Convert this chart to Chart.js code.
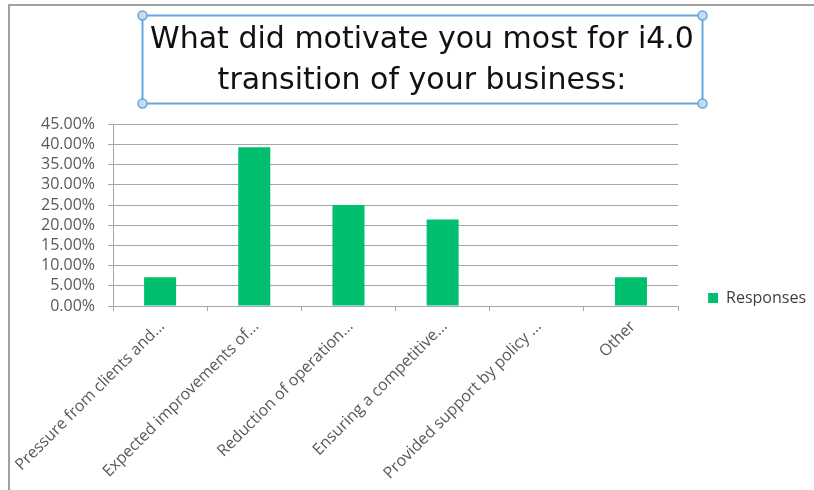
<!DOCTYPE html>
<html>
<head>
<meta charset="utf-8">
<title>i4.0 transition motivation</title>
<script src="https://cdn.jsdelivr.net/npm/chart.js@4"></script>
<style>
  html, body { margin: 0; padding: 0; background: #fff; }
</style>
</head>
<body>
<canvas id="myChart" width="814" height="490"></canvas>
<script>
// Survey answers: share of respondents per motivation (%)
var categories = [
    'Pressure from clients and...',
    'Expected improvements of...',
    'Reduction of operation...',
    'Ensuring a competitive...',
    'Provided support by policy ...',
    'Other'
];
var responses = [7.14, 39.29, 25.00, 21.43, 0, 7.14];

// Value axis range
var yMin = 0;
var yMax = 45;
var yStep = 5;

var titleLines = ['What did motivate you most for i4.0', 'transition of your business:'];

var gridColor = '#a6a6a6';
var labelFont = { family: 'Open Sans', size: 16 };
var titleFont = { family: 'DejaVu Sans', size: 30, weight: 'normal', lineHeight: 1.37 };

// Outer frame and the selection box drawn round the title
var decorations = {
    id: 'decorations',
    beforeDraw: function(chart) {
        var c = chart.ctx;
        c.save();
        c.strokeStyle = '#a0a0a0';
        c.lineWidth = 2;
        c.beginPath();
        c.moveTo(9, chart.height);
        c.lineTo(9, 5);
        c.lineTo(chart.width, 5);
        c.stroke();
        c.restore();
    },
    afterDraw: function(chart) {
        var c = chart.ctx;
        var t = chart.titleBlock;
        var lh = titleFont.size * titleFont.lineHeight;
        c.save();
        c.font = 'normal ' + titleFont.size + 'px "' + titleFont.family + '"';
        var w = 0;
        titleLines.forEach(function(s) { w = Math.max(w, c.measureText(s).width); });
        var cx = (t.left + t.right) / 2;
        var x0 = Math.round(cx - w / 2 - 8) + 0.5, x1 = Math.round(cx + w / 2 + 8) + 0.5;
        var y0 = Math.round(t.top - 5) + 0.5, y1 = Math.round(t.top + lh * titleLines.length + 1) + 0.5;
        c.strokeStyle = '#6aa5dc';
        c.lineWidth = 2;
        c.strokeRect(x0, y0, x1 - x0, y1 - y0);
        [[x0, y0], [x1, y0], [x0, y1], [x1, y1]].forEach(function(p) {
            c.beginPath();
            c.arc(p[0], p[1], 4.5, 0, Math.PI * 2);
            c.fillStyle = '#c3dcf2';
            c.fill();
            c.lineWidth = 1.5;
            c.stroke();
        });
        c.restore();
    }
};

var ctx = document.getElementById('myChart').getContext('2d');

var myChart = new Chart(ctx, {
    type: 'bar',
    data: {
        labels: categories,
        datasets: [{
            label: 'Responses',
            data: responses,
            backgroundColor: '#00bf6f',
            barPercentage: 0.34,
            categoryPercentage: 1
        }]
    },
    options: {
        responsive: false,
        animation: false,
        layout: {
            padding: { left: 28, right: -2, top: 20, bottom: 1 }
        },
        scales: {
            x: {
                grid: { drawOnChartArea: false, tickLength: 5, color: gridColor },
                border: { color: gridColor },
                ticks: {
                    minRotation: 45,
                    maxRotation: 45,
                    padding: 6,
                    labelOffset: 2,
                    color: '#595959',
                    font: labelFont
                }
            },
            y: {
                min: yMin,
                max: yMax,
                grid: { color: gridColor, tickLength: 5 },
                border: { color: gridColor },
                ticks: {
                    stepSize: yStep,
                    autoSkip: false,
                    padding: 13,
                    color: '#595959',
                    font: labelFont,
                    callback: function(value) {
                        return value.toFixed(2) + '%';
                    }
                }
            },
            // empty strip between the plot and the legend
            gap: {
                position: 'right',
                grid: { display: false },
                border: { display: false },
                ticks: { display: false },
                afterFit: function(scale) { scale.width = 30; }
            }
        },
        plugins: {
            title: {
                display: true,
                text: titleLines,
                color: '#111',
                font: titleFont,
                padding: { top: 0, bottom: 22 }
            },
            legend: {
                position: 'right',
                align: 'end',
                fullSize: false,
                labels: {
                    boxWidth: 10,
                    boxHeight: 10,
                    padding: 0,
                    color: '#404040',
                    font: labelFont
                }
            },
            tooltip: { enabled: false }
        }
    },
    plugins: [decorations]
});
</script>
</body>
</html>
